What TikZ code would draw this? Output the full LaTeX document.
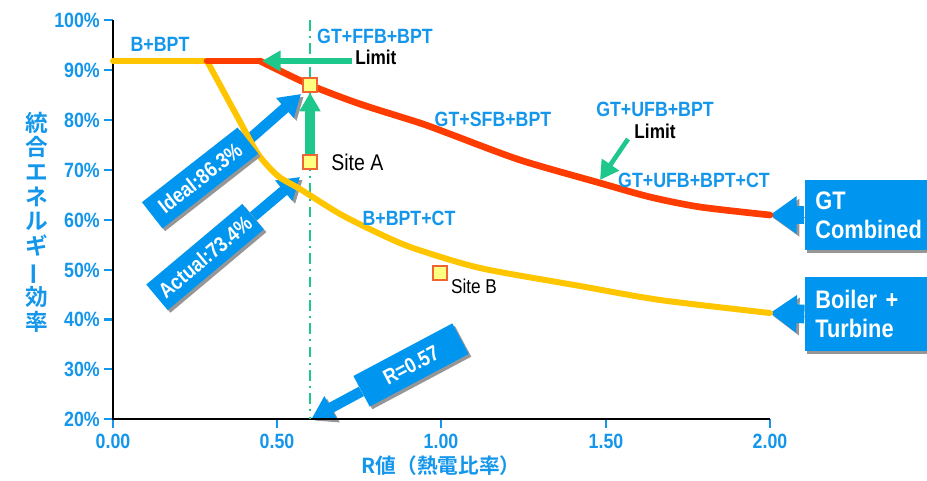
\documentclass[tikz,border=0pt]{standalone}
\usepackage{fontspec}
\setmainfont{Liberation Sans}[FakeStretch=0.86]
\newfontfamily\jpfont{Noto Sans CJK JP}[BoldFont={Noto Sans CJK JP Bold}]
\usepackage{tikz}
\usetikzlibrary{positioning,
arrows.meta,
shadows}
\definecolor{txtblue}{RGB}{20,150,235}
\definecolor{boxblue}{RGB}{0,150,240}
\definecolor{gtred}{RGB}{255,60,0}
\definecolor{btyellow}{RGB}{255,198,0}
\definecolor{limgreen}{RGB}{30,200,140}
\definecolor{sitefill}{RGB}{255,255,128}
\definecolor{siteedge}{RGB}{240,100,50}
\definecolor{shade}{RGB}{150,150,150}
\pgfdeclarelayer{back}
\pgfsetlayers{back,main}
\tikzstyle{tick} = [text=txtblue, font=\bfseries\fontsize{15.5}{18}\selectfont, inner sep=0pt]
\tikzstyle{lbl} = [text=txtblue, font=\bfseries\fontsize{15.5}{18}\selectfont, inner sep=0pt]
\tikzstyle{note} = [text=black, font=\bfseries\fontsize{15}{18}\selectfont, inner sep=0pt]
\tikzstyle{sitetxt} = [text=black, font=\fontsize{17}{20}\selectfont, inner sep=0pt]
\tikzstyle{site} = [draw=siteedge, fill=sitefill, line width=1pt, minimum size=10.5pt, inner sep=0pt]
\tikzstyle{callout} = [
fill=boxblue, text=white,
font=\bfseries\fontsize{16}{19}\selectfont, inner sep=0pt,
drop shadow={shadow xshift=2pt, shadow yshift=-2pt, fill=shade, opacity=1}
]
\tikzstyle{sidebox} = [callout, font=\bfseries\fontsize{19}{22}\selectfont,
minimum width=92pt, text width=76pt, align=left, inner xsep=8pt]
\tikzstyle{BlueArrow} = [
draw=boxblue, line width=8pt, -{Triangle[width=19pt,length=16pt]},
preaction={draw=shade, transform canvas={xshift=2pt,yshift=-2pt}}
]
\tikzstyle{SideArrow} = [BlueArrow, line width=14pt, -{Triangle[width=27pt,length=20pt]}]
\tikzstyle{GreenArrow} = [draw=limgreen, line width=4pt, -{Triangle[width=15pt,length=14pt]}]
\tikzstyle{yellowline} = [btyellow, line width=4.5pt, line cap=round, line join=round]
\tikzstyle{redline} = [gtred, line width=5pt, line cap=round, line join=round]

\begin{document}
\begin{tikzpicture}[x=0.75pt, y=-0.75pt]
\useasboundingbox (0,0) rectangle (927,481);

% ticks and axes
\foreach \v/\py in {20/419, 30/369, 40/319.5, 50/270, 60/220, 70/170, 80/120, 90/70, 100/20} {
  \draw[txtblue, line width=2.2pt] (104,\py) -- (113,\py);
  \node[tick, anchor=east] (yl\v) at (100,\py) {\v\%};
}
\foreach \v/\px [count=\k] in {0.00/113, 0.50/277, 1.00/441, 1.50/606, 2.00/770} {
  \draw[txtblue, line width=2.2pt] (\px,419) -- (\px,428);
  \node[tick] (xl\k) at (\px,441) {\v};
}
\draw[line width=2.2pt] (113,20) -- (113,419) -- (770,419);

\node[text=txtblue, font=\jpfont\bfseries\fontsize{15.5}{18}\selectfont, inner sep=0pt] (xlabel) at (441,466) {R値（熱電比率）};
\node[text=txtblue, font=\jpfont\bfseries\fontsize{17}{18.5}\selectfont, align=center, inner sep=0pt] (ylabel) at (37,222)
  {統\\合\\エ\\ネ\\ル\\ギ\\\rotatebox[origin=c]{90}{ー}\\効\\率};

% R = 0.57
\coordinate (rtop) at (310,20);
\coordinate (rbot) at (310,419);
\draw[limgreen, line width=2pt, dash pattern=on 8pt off 4pt on 1.5pt off 4pt] (rtop) -- (rbot);

% curves
\draw[yellowline] (113,61) -- (207,61);
\draw[yellowline] plot[smooth, tension=0.45] coordinates {(207,61) (238,118) (258,154) (278,176) (300,189)
  (340,214) (380,234) (413,248) (480,268) (580,286) (660,300) (770,313)};
\draw[redline] (207,61) -- (260,61);
\draw[redline] plot[smooth, tension=0.45] coordinates {(260,61) (310,85) (360,104) (420,123) (450,134)
  (520,160) (600,183) (650,197) (700,207) (770,215)};

% sites
\node[site] (ideal) at (310,85) {};
\node[site] (siteA) at (310,162) {};
\node[site] (siteB) at (440,273) {};
\node[sitetxt, right=10pt of siteA] (siteAtxt) {Site A};
\node[sitetxt, font=\fontsize{15}{18}\selectfont] (siteBtxt) at (474,286) {Site B};
\draw[GreenArrow, line width=7pt, -{Triangle[width=15pt,length=14pt]}] (siteA.north) -- (ideal.south);

% limits
\node[note, anchor=west] (limA) at (355,57) {Limit};
\coordinate (limAtail) at (352,61);
\coordinate (limAtip) at (262,61);
\draw[GreenArrow] (limAtail) -- (limAtip);
\node[note] (limB) at (655,131) {Limit};
\coordinate (limBtail) at (628,139);
\coordinate (limBtip) at (600,180);
\draw[GreenArrow, line width=3.5pt] (limBtail) -- (limBtip);

% labels
\node[lbl] (bbpt) at (160,44) {B+BPT};
\node[lbl] (ffb) at (375,36) {GT+FFB+BPT};
\node[lbl] (sfb) at (493,119) {GT+SFB+BPT};
\node[lbl] (ufb) at (655,109) {GT+UFB+BPT};
\node[lbl] (ufbct) at (694,180) {GT+UFB+BPT+CT};
\node[lbl] (bbptct) at (409,218) {B+BPT+CT};

% callouts
\node[callout, rotate=38, minimum width=91pt, minimum height=25pt] (idealbox) at (200,178) {Ideal:86.3\%};
\node[callout, rotate=40, minimum width=94pt, minimum height=25pt] (actualbox) at (205,257) {Actual:73.4\%};
\node[callout, rotate=28, minimum width=84pt, minimum height=26pt] (rbox) at (411,365) {R=0.57};
\node[sidebox, minimum height=53pt] (gtbox) at (866,215) {GT\\Combined};
\node[sidebox, minimum height=56pt] (btbox) at (866,314) {Boiler +\\Turbine};
\coordinate (idealtip) at (301,94);
\coordinate (actualtip) at (300,177);
\coordinate (rtip) at (312,418);
\coordinate (gtend) at (770,215);
\coordinate (btend) at (770,313);
\begin{pgfonlayer}{back}
\draw[BlueArrow] (idealbox.east) -- (idealtip);
\draw[BlueArrow] (actualbox.east) -- (actualtip);
\draw[BlueArrow] (rbox.west) -- (rtip);
\draw[SideArrow] (gtbox.west) -- (gtend);
\draw[SideArrow] (btbox.west) -- (btend);
\end{pgfonlayer}
\end{tikzpicture}
\end{document}
